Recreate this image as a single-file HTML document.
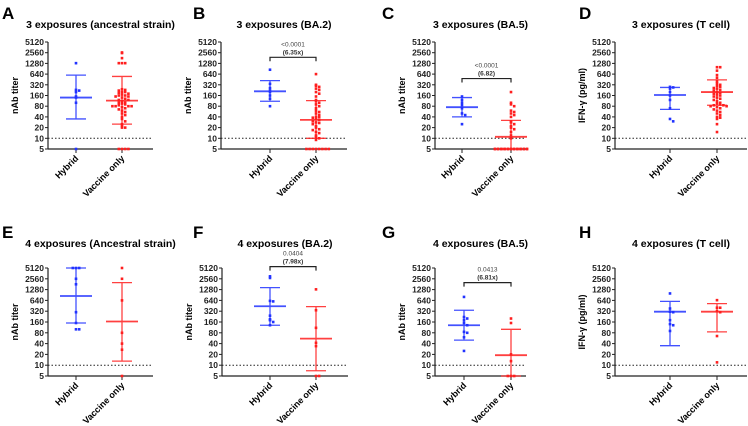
<!DOCTYPE html>
<html><head><meta charset="utf-8"><style>
html,body{margin:0;padding:0;background:#fff;}
svg{display:block;font-family:"Liberation Sans",Arial,sans-serif;}
</style></head><body>
<svg id="fig" width="748" height="426" viewBox="0 0 748 426" xmlns="http://www.w3.org/2000/svg"></svg>
<script>
const tickVals=[5,10,20,40,80,160,320,640,1280,2560,5120];
const categories=["Hybrid","Vaccine only"];
const titles=["3 exposures (ancestral strain)","3 exposures (BA.2)","3 exposures (BA.5)","3 exposures (T cell)","4 exposures (Ancestral strain)","4 exposures (BA.2)","4 exposures (BA.5)","4 exposures (T cell)"];
const letters=["A","B","C","D","E","F","G","H"];
const yTitles=["nAb titer","nAb titer","nAb titer","IFN-\u03b3 (pg/ml)","nAb titer","nAb titer","nAb titer","IFN-\u03b3 (pg/ml)"];
const hybA=[1300,230,220,200,150,140,100,5];
const vacA=[2600,2500,1800,1300,1300,1300,240,230,220,200,200,190,180,170,160,160,150,150,140,130,120,120,110,100,100,95,90,85,80,80,80,80,75,70,65,60,55,50,45,40,35,30,25,22,20,20,5,5,5,5];
const hybB=[850,340,260,220,200,160,130,80];
const vacB=[640,320,300,280,250,230,200,180,150,120,110,100,90,80,70,60,55,50,45,40,40,38,35,33,30,28,27,25,22,20,18,17,15,14,12,11,10,9,5,5,5,5,5,5,5,5];
const hybC=[150,120,100,85,70,50,45,25];
const vacC=[200,100,90,80,60,55,50,45,40,30,28,25,22,20,18,15,12,10,5,5,5,5,5,5,5,5,5,5,5,5,5,5,5,5,5,5,5,5,5,5];
const hybD=[280,270,250,200,160,120,70,35,30];
const vacD=[1000,1000,800,600,500,400,350,320,300,280,260,250,230,220,200,190,180,170,160,150,140,130,120,110,100,95,90,85,85,80,80,75,70,65,60,55,50,45,40,38,35,25,15];
const hybE=[5120,5120,5120,2560,1800,300,150,100,100];
const vacE=[5120,2560,640,80,40,27,5];
const hybF=[3000,2700,620,600,240,190,180,160,130];
const vacF=[1300,340,110,42,34,5,5];
const hybG=[800,220,200,180,150,130,85,80,60,25];
const vacG=[200,150,20,13,5,5,5];
const hybH=[1000,380,310,300,180,140,130,90];
const vacH=[650,400,400,320,300,65,12];
const hybMean=[140,210,75,165,850,440,130,310];
const hybLo=[35,110,40,65,150,130,50,35];
const hybHi=[600,420,140,270,5120,1450,340,600];
const vacMean=[115,33,11,200,165,55,19,310];
const vacLo=[25,10,5,85,13,7,5,85];
const vacHi=[550,115,32,440,2000,430,100,520];
const pText=["","<0.0001","<0.0001","","","0.0404","0.0413",""];
const foldText=["","(6.35x)","(6.82)","","","(7.98x)","(6.81x)",""];
const bracketVal=[0,1900,480,0,0,5600,2000,0];
const hybData=[hybA,hybB,hybC,hybD,hybE,hybF,hybG,hybH];
const vacData=[vacA,vacB,vacC,vacD,vacE,vacF,vacG,vacH];

const layout=[
 {ax:48,hx:76,vx:122,rx:153,top:42,bot:149},
 {ax:221,hx:270,vx:316,rx:347,top:42,bot:149},
 {ax:435,hx:462,vx:511,rx:526,top:42,bot:149},
 {ax:615,hx:670,vx:717,rx:747,top:42,bot:149},
 {ax:48,hx:76,vx:122,rx:153,top:268,bot:376},
 {ax:222,hx:270,vx:316,rx:348,top:268,bot:376},
 {ax:435,hx:464,vx:511,rx:526,top:268,bot:376},
 {ax:615,hx:670,vx:717,rx:747,top:268,bot:376}];
const NS="http://www.w3.org/2000/svg";
const svg=document.getElementById('fig');
function mk(tag,attrs,parent,text){const e=document.createElementNS(NS,tag);for(const k in attrs)e.setAttribute(k,attrs[k]);if(text!==undefined)e.textContent=text;(parent||svg).appendChild(e);return e;}
const BLUE="#2233ff",RED="#ff1f1f";
for(let p=0;p<8;p++){
 const L=layout[p];
 const y=v=>L.bot-(Math.log2(v/5)/10)*(L.bot-L.top);
 const g=mk('g',{});
 
 
 const lx=p%4===0?2:(p%4===1?193:(p%4===2?374+8:374+205));
 const ly=p<4?19:238;
 const let_=mk('text',{x:lx,y:ly,'font-size':17,'font-weight':'bold'},g,letters[p]);
 
 const t=mk('text',{x:(L.ax+L.rx)/2,y:p<4?28:247,'font-size':10.5,'font-weight':'bold','text-anchor':'middle'},g,titles[p]);
 
 const yt=mk('text',{x:0,y:0,'font-size':9,'font-weight':'bold','text-anchor':'middle',transform:`translate(${L.ax-30},${(L.top+L.bot)/2}) rotate(-90)`},g,yTitles[p]);
 
 mk('line',{x1:L.ax,y1:L.top,x2:L.ax,y2:L.bot,stroke:'#222','stroke-width':1.2},g);
 mk('line',{x1:L.ax,y1:L.bot,x2:L.rx,y2:L.bot,stroke:'#222','stroke-width':1.2},g);
 tickVals.forEach(v=>{
  mk('line',{x1:L.ax-3,y1:y(v),x2:L.ax,y2:y(v),stroke:'#222','stroke-width':1},g);
  const tl=mk('text',{x:L.ax-4,y:y(v)+3,'font-size':8.5,'font-weight':'bold','text-anchor':'end',fill:'#222'},g,String(v));
  
 });
 const dl=mk('line',{x1:L.ax,y1:y(10),x2:L.rx,y2:y(10),stroke:'#222','stroke-width':1,'stroke-dasharray':'1.5,2'},g);
 
 [L.hx,L.vx].forEach((cx,i)=>{
  mk('line',{x1:cx,y1:L.bot,x2:cx,y2:L.bot+4,stroke:'#222'},g);
  const xl=mk('text',{x:0,y:0,'font-size':9,'font-weight':'bold','text-anchor':'end',transform:`translate(${cx+3},${L.bot+10}) rotate(-45)`},g,categories[i]);
  
 });
 const groups=[[hybData[p],L.hx,BLUE,hybMean[p],hybLo[p],hybHi[p]],[vacData[p],L.vx,RED,vacMean[p],vacLo[p],vacHi[p]]];
 groups.forEach(([vals,cx,col,m,lo,hi],gi)=>{
  const counts={};
  vals.forEach(v=>{
   const key=Math.round(y(v)/3);counts[key]=(counts[key]||0)+1;const k=(counts[key]-1)%11;
   const off=(k===0?0:(k%2?1:-1)*Math.ceil(k/2)*3.2);
   const pt=mk('rect',{x:cx+off-1.3,y:y(v)-1.3,width:2.6,height:2.6,fill:col},g);
   
   
  });
  const eb=mk('g',{stroke:col,'stroke-width':1.3,opacity:0.85},g);
  
  mk('line',{x1:cx,y1:y(hi),x2:cx,y2:y(lo)},eb);
  mk('line',{x1:cx-10,y1:y(hi),x2:cx+10,y2:y(hi)},eb);
  mk('line',{x1:cx-10,y1:y(lo),x2:cx+10,y2:y(lo)},eb);
  mk('line',{x1:cx-16,y1:y(m),x2:cx+16,y2:y(m),'stroke-width':1.8},eb);
 });
 if(pText[p]){
  const by=y(bracketVal[p]);
  const br=mk('path',{d:`M${L.hx},${by+4}V${by}H${L.vx}V${by+4}`,fill:'none',stroke:'#222','stroke-width':1.2},g);
  
  const mx=(L.hx+L.vx)/2;
  const pt=mk('text',{x:mx,y:by-11,'font-size':6.5,'text-anchor':'middle',fill:'#444'},g,pText[p]);
  
  const ft=mk('text',{x:mx,y:by-3,'font-size':6.5,'font-weight':'bold','text-anchor':'middle',fill:'#333'},g,foldText[p]);
  
 }
}
</script>
</body></html>
